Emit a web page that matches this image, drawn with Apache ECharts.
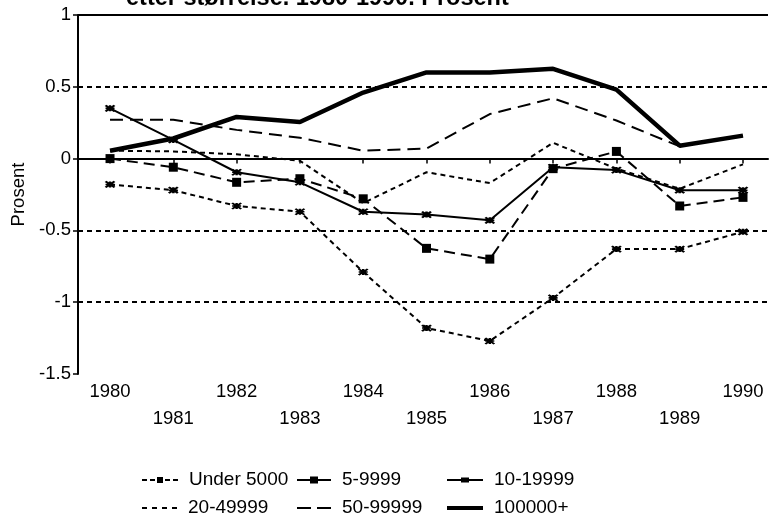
<!DOCTYPE html>
<html>
<head>
<meta charset="utf-8">
<script src="https://cdn.jsdelivr.net/npm/echarts@6/dist/echarts.min.js"></script>
<style>
html,body{margin:0;padding:0;background:#fff;}
#c{width:769px;height:522px;}
</style>
</head>
<body>
<div id="c"></div>
<script>
// ---- data ----
const years = [1980, 1981, 1982, 1983, 1984, 1985, 1986, 1987, 1988, 1989, 1990];
const seriesNames = ['Under 5000', '5-9999', '10-19999', '20-49999', '50-99999', '100000+'];
const under5000 = [-0.18, -0.22, -0.33, -0.37, -0.79, -1.18, -1.27, -0.97, -0.63, -0.63, -0.51];
const s5_9999 = [0.0, -0.06, -0.165, -0.14, -0.28, -0.625, -0.70, -0.07, 0.05, -0.33, -0.27];
const s10_19999 = [0.35, 0.13, -0.095, -0.165, -0.37, -0.39, -0.43, -0.06, -0.08, -0.22, -0.22];
const s20_49999 = [0.055, 0.05, 0.03, -0.015, -0.31, -0.095, -0.17, 0.11, -0.07, -0.21, -0.04];
const s50_99999 = [0.27, 0.27, 0.20, 0.145, 0.055, 0.07, 0.31, 0.42, 0.265, 0.085, 0.16];
const s100000 = [0.055, 0.14, 0.29, 0.255, 0.46, 0.60, 0.60, 0.625, 0.48, 0.09, 0.16];
const titleText = 'etter størrelse. 1980-1990. Prosent';
const yName = 'Prosent';

const FONT = '"Liberation Sans", Arial, sans-serif';
const FS = 18.5;
const LFS = 19;
const pair = arr => years.map((y, i) => [y, arr[i]]);
const star = 'path://M0,0L8,6M8,0L0,6M0,3L8,3M4,0L4,6';

// legend icons (line samples)
const icons = {
  'Under 5000': 'path://M0,2h5v2h-5z M8,2h5v2h-5z M15,0h6v6h-6z M23,2h5v2h-5z M31,2h5v2h-5z',
  '5-9999': 'path://M0,2.5h34v2h-34z M13,0h8v7h-8z',
  '10-19999': 'path://M0,2h36v2h-36z M14,0.5h8v5h-8z',
  '20-49999': 'path://M0,0h5v2h-5z M10,0h5v2h-5z M20,0h5v2h-5z M30,0h5v2h-5z',
  '50-99999': 'path://M0,0h14v2h-14z M20,0h14v2h-14z',
  '100000+': 'path://M0,0h36v4h-36z'
};
const legendPos = [
  ['Under 5000', 142, 480, 36, 6],
  ['5-9999', 297, 480, 34, 7],
  ['10-19999', 447, 480, 36, 6],
  ['20-49999', 142, 508, 35, 2],
  ['50-99999', 297, 508, 34, 2],
  ['100000+', 447, 508, 36, 4]
];
const legends = legendPos.map(([name, x, cy, w, h]) => ({
  left: x, top: cy - LFS / 2, padding: 0, orient: 'horizontal',
  itemWidth: w, itemHeight: h, itemGap: 0,
  data: [{name: name, icon: icons[name], itemStyle: {color: '#000', borderWidth: 0}}],
  textStyle: {fontSize: LFS, lineHeight: LFS, color: '#000', fontFamily: FONT, padding: [0, 0, 0, 6]}
}));

const chart = echarts.init(document.getElementById('c'), null, {renderer: 'canvas'});
const option = {
  backgroundColor: '#fff',
  animation: false,
  textStyle: {fontFamily: FONT, color: '#000'},
  graphic: [{
    type: 'text', left: 126, top: -13,
    style: {text: titleText, fontFamily: FONT, fontWeight: 'bold', fontSize: 23.5, fill: '#000'}
  }],
  grid: {left: 78, right: 1, top: 15, bottom: 148, containLabel: false, outerBoundsMode: 'none'},
  xAxis: {
    type: 'value', min: 1979.494, max: 1990.395,
    axisLine: {show: true, lineStyle: {color: '#000', width: 2}},
    axisTick: {show: true, customValues: years, length: 5, lineStyle: {color: '#000', width: 1.5}},
    axisLabel: {
      customValues: years, margin: 4, fontSize: FS, lineHeight: 27, color: '#000', fontFamily: FONT,
      formatter: v => (v % 2 ? '\n' + v : String(v))
    },
    splitLine: {show: false}
  },
  yAxis: {
    type: 'value', min: -1.5, max: 1, interval: 0.5,
    name: yName, nameLocation: 'middle', nameGap: 48,
    nameTextStyle: {fontSize: FS, color: '#000', fontFamily: FONT},
    axisLine: {show: true, lineStyle: {color: '#000', width: 2}},
    axisTick: {show: true, length: 5, lineStyle: {color: '#000', width: 1.5}},
    axisLabel: {fontSize: FS, color: '#000', margin: 7, fontFamily: FONT,
      formatter: v => String(v)},
    splitLine: {show: false}
  },
  legend: legends,
  series: [
    {
      name: seriesNames[0], type: 'line', data: pair(under5000),
      symbol: star, symbolSize: [9, 6],
      itemStyle: {color: '#000', borderColor: '#000', borderWidth: 2},
      lineStyle: {color: '#000', width: 2, type: [5, 4]},
      markLine: {
        silent: true, symbol: 'none', label: {show: false},
        data: [
          {yAxis: 0.5, lineStyle: {type: [5, 4], width: 2, color: '#000'}},
          {yAxis: -0.5, lineStyle: {type: [5, 4], width: 2, color: '#000'}},
          {yAxis: -1, lineStyle: {type: [5, 4], width: 2, color: '#000'}},
          {yAxis: 0, lineStyle: {type: 'solid', width: 2, color: '#000'}},
          {yAxis: 1, lineStyle: {type: 'solid', width: 2, color: '#000'}}
        ]
      },
      z: 3
    },
    {
      name: seriesNames[1], type: 'line', data: pair(s5_9999),
      symbol: 'rect', symbolSize: 9,
      itemStyle: {color: '#000', borderColor: '#000', borderWidth: 0},
      lineStyle: {color: '#000', width: 2, type: [11, 6]},
      z: 3
    },
    {
      name: seriesNames[2], type: 'line', data: pair(s10_19999),
      symbol: star, symbolSize: [9, 6],
      itemStyle: {color: '#000', borderColor: '#000', borderWidth: 2},
      lineStyle: {color: '#000', width: 2, type: 'solid'},
      z: 3
    },
    {
      name: seriesNames[3], type: 'line', data: pair(s20_49999),
      symbol: 'none',
      itemStyle: {color: '#000'},
      lineStyle: {color: '#000', width: 2, type: [5, 4]},
      z: 3
    },
    {
      name: seriesNames[4], type: 'line', data: pair(s50_99999),
      symbol: 'none',
      itemStyle: {color: '#000'},
      lineStyle: {color: '#000', width: 2, type: [13, 7]},
      z: 3
    },
    {
      name: seriesNames[5], type: 'line', data: pair(s100000),
      symbol: 'none',
      itemStyle: {color: '#000'},
      lineStyle: {color: '#000', width: 4.5, type: 'solid'},
      z: 3
    }
  ]
};
chart.setOption(option);
</script>
</body>
</html>
